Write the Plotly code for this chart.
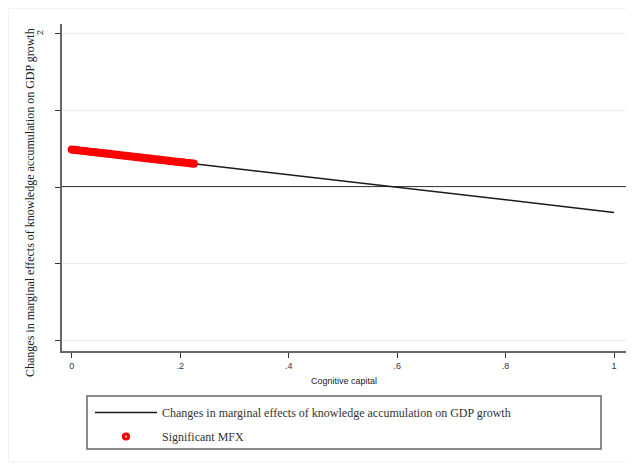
import plotly.graph_objects as go

# ---- data ----
line_x = [0, 0.2, 0.4, 0.6, 0.8, 1.0]
line_y = [0.49, 0.326, 0.162, -0.002, -0.166, -0.33]

sig_x = [0.000, 0.005, 0.010, 0.015, 0.020, 0.025, 0.030, 0.035, 0.040, 0.045,
         0.050, 0.055, 0.060, 0.065, 0.070, 0.075, 0.080, 0.085, 0.090, 0.095,
         0.100, 0.105, 0.110, 0.115, 0.120, 0.125, 0.130, 0.135, 0.140, 0.145,
         0.150, 0.155, 0.160, 0.165, 0.170, 0.175, 0.180, 0.185, 0.190, 0.195,
         0.200, 0.205, 0.210, 0.215, 0.220, 0.225]
sig_y = [0.490, 0.486, 0.482, 0.478, 0.474, 0.470, 0.465, 0.461, 0.457, 0.453,
         0.449, 0.445, 0.441, 0.437, 0.433, 0.429, 0.424, 0.420, 0.416, 0.412,
         0.408, 0.404, 0.400, 0.396, 0.392, 0.388, 0.383, 0.379, 0.375, 0.371,
         0.367, 0.363, 0.359, 0.355, 0.351, 0.347, 0.342, 0.338, 0.334, 0.330,
         0.326, 0.322, 0.318, 0.314, 0.310, 0.306]

x_tickvals = [0, 0.2, 0.4, 0.6, 0.8, 1.0]
x_ticktext = ["0", ".2", ".4", ".6", ".8", "1"]
y_tickvals = [-2, -1, 0, 1, 2]
y_ticktext = ["", "", "", "", "2"]

line_name = "Changes in marginal effects of knowledge accumulation on GDP growth"
sig_name = "Significant MFX"
x_title = "Cognitive capital"
y_title = "Changes in marginal effects of knowledge accumulation on GDP growth"

serif = "Liberation Serif, Times New Roman, serif"
sans = "Liberation Sans, Arial, sans-serif"

fig = go.Figure()
fig.add_trace(go.Scatter(x=line_x, y=line_y, mode="lines", name=line_name,
                         legendgroup="a",
                         line=dict(color="#1a1a1a", width=1.5)))
fig.add_trace(go.Scatter(x=sig_x, y=sig_y, mode="markers", name=sig_name,
                         legendgroup="b",
                         marker=dict(symbol="circle-open", size=5, color="#ff0000",
                                     line=dict(color="#ff0000", width=3.2))))

# page offset of the plotly canvas inside the browser window
O = 8
W, H = 634 - O, 466 - O
L, R, T, B = 62 - O, 8, 24 - O, H - (351 - O)
pw, ph = W - L - R, H - T - B

def px(xp):  # reference page x -> paper
    return (xp - O - L) / pw

def py(yp):  # reference page y -> paper
    return (H - B - (yp - O)) / ph

fig.update_layout(
    width=W, height=H,
    margin=dict(l=L, r=R, t=T, b=B),
    paper_bgcolor="white", plot_bgcolor="white",
    showlegend=True,
    legend=dict(x=px(90), y=py(398), xanchor="left", yanchor="top",
                bgcolor="rgba(0,0,0,0)", borderwidth=0,
                font=dict(family=serif, size=12, color="#333333"),
                tracegroupgap=5, itemwidth=62),
    xaxis=dict(range=[-0.018, 1.022], tickvals=x_tickvals, ticktext=x_ticktext,
               showgrid=False, zeroline=False, showline=True, linecolor="#666666",
               linewidth=1.5, ticks="outside", ticklen=5, tickcolor="#333333",
               tickfont=dict(family=sans, size=9, color="#333333"),
               title=dict(text=x_title, font=dict(family=sans, size=9, color="#222222"),
                          standoff=8)),
    yaxis=dict(range=[-2.14, 2.13], tickvals=y_tickvals, ticktext=y_ticktext,
               showgrid=True, gridcolor="#e6eeee", gridwidth=1,
               zeroline=False, showline=True, linecolor="#666666", linewidth=1.5,
               ticks="outside", ticklen=5, tickcolor="#333333", tickangle=-90,
               ticklabelstandoff=9,
               tickfont=dict(family=sans, size=9, color="#333333")),
    shapes=[
        dict(type="line", xref="paper", yref="y", x0=0, x1=1, y0=0, y1=0,
             line=dict(color="#000000", width=1.5), layer="below"),
        dict(type="rect", xref="paper", yref="paper", x0=px(87), x1=px(601),
             y0=py(449), y1=py(396), line=dict(color="#666666", width=1.5)),
        dict(type="rect", xref="paper", yref="paper", x0=px(8.5), x1=px(628),
             y0=py(462), y1=py(8.5), line=dict(color="#eef2f2", width=1)),
    ],
    annotations=[
        dict(text=y_title, xref="paper", yref="paper", x=px(30), y=py(203),
             textangle=-90, showarrow=False, xanchor="center", yanchor="middle",
             font=dict(family=serif, size=12, color="#222222")),
    ],
)

fig.write_html("out.html")
